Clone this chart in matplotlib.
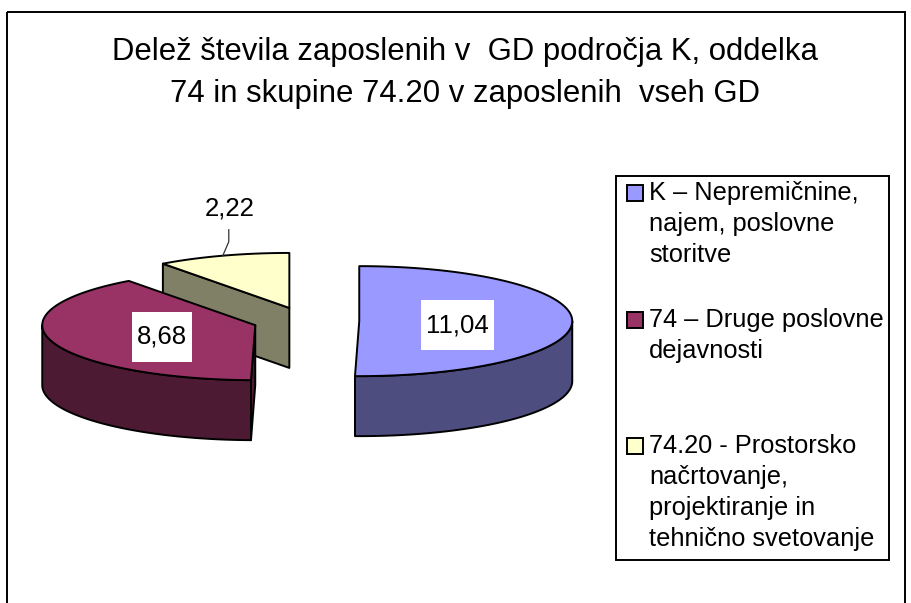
import numpy as np
import matplotlib
matplotlib.use("Agg")
import matplotlib.pyplot as plt
import matplotlib.colors as mcolors
from matplotlib.patches import Polygon, Rectangle

plt.rcParams['font.family'] = ['Liberation Sans', 'DejaVu Sans']

# ---------------- data ----------------
title_lines = ["Delež števila zaposlenih v  GD področja K, oddelka",
               "74 in skupine 74.20 v zaposlenih  vseh GD"]
legend_entries = [["K – Nepremičnine,", "najem, poslovne", "storitve"],
                  ["74 – Druge poslovne", "dejavnosti"],
                  ["74.20 - Prostorsko", "načrtovanje,", "projektiranje in",
                   "tehnično svetovanje"]]
values = [11.04, 8.68, 2.22]
value_labels = ["11,04", "8,68", "2,22"]
top_colors = ["#9999FF", "#993366", "#FFFFCC"]

# ---------------- layout ----------------
W, H = 911, 603
fig = plt.figure(figsize=(W / 100, H / 100), dpi=100)
ax = fig.add_axes([0, 0, 1, 1])
ax.set_xlim(0, W)
ax.set_ylim(H, 0)
ax.axis('off')

CX, CY = 306, 321      # pie centre (pixels)
A, B = 213, 55         # ellipse semi-axes
DEPTH = 60             # thickness
EXPLODE = 0.25         # explosion as fraction of radius
LW = 1.4


def shade(c, f=0.5):
    r, g, b = mcolors.to_rgb(c)
    return (r * f, g * f, b * f)


def pt(cx, cy, th, r=1.0, dz=0.0):
    t = np.radians(th)
    return cx + r * A * np.sin(t), cy - r * B * np.cos(t) + dz


def arc(cx, cy, t1, t2, dz=0.0, n=120):
    ts = np.linspace(t1, t2, n)
    return [pt(cx, cy, t, 1.0, dz) for t in ts]


total = sum(values)
angles = np.concatenate([[0], np.cumsum(values)]) / total * 360.0

slices = []
for i, v in enumerate(values):
    t1, t2 = angles[i], angles[i + 1]
    tm = (t1 + t2) / 2
    cx, cy = pt(CX, CY, tm, EXPLODE)
    slices.append((i, t1, t2, tm, cx, cy))

order = sorted(slices, key=lambda s: -np.cos(np.radians(s[3])))

edge = dict(edgecolor='black', linewidth=LW, joinstyle='round')

for (i, t1, t2, tm, cx, cy) in order:
    col = top_colors[i]
    side = shade(col, 0.5)
    # radial faces
    for th, vis in ((t1, np.sin(np.radians(t1)) < -1e-6),
                    (t2, np.sin(np.radians(t2)) > 1e-6)):
        if vis:
            p = pt(cx, cy, th)
            face = [(cx, cy), p, (p[0], p[1] + DEPTH), (cx, cy + DEPTH)]
            ax.add_patch(Polygon(face, closed=True, facecolor=side, **edge))
    # outer curved side (front half only)
    lo, hi = max(t1, 90), min(t2, 270)
    if hi > lo:
        top = arc(cx, cy, lo, hi)
        bot = arc(cx, cy, lo, hi, DEPTH)[::-1]
        ax.add_patch(Polygon(top + bot, closed=True, facecolor=side, **edge))
    # top face
    poly = [(cx, cy)] + arc(cx, cy, t1, t2)
    ax.add_patch(Polygon(poly, closed=True, facecolor=col, **edge))

# ---------------- data labels ----------------
fig.canvas.draw()
renderer = fig.canvas.get_renderer()
for (i, t1, t2, tm, cx, cy) in slices:
    if values[i] / total > 0.2:
        lx, ly = pt(cx, cy, tm, 0.46, 4)
        t = ax.text(lx, ly, value_labels[i], fontsize=18.5, ha='center',
                    va='center', zorder=6)
        bb = t.get_window_extent(renderer)
        bw = bb.width + 10
        ax.add_patch(Rectangle((lx - bw / 2, ly - 25), bw, 50,
                               facecolor='white', edgecolor='none', zorder=5))
    else:
        rx, ry = pt(cx, cy, tm, 1.0)
        ax.plot([rx, rx + 6, rx + 6], [ry, ry - 14, ry - 26],
                color='#333333', lw=0.9, zorder=5)
        ax.text(rx + 7, ry - 47, value_labels[i], fontsize=18.5, ha='center',
                va='center', zorder=6)

# ---------------- title ----------------
for k, line in enumerate(title_lines):
    ax.text(465, 60 + 42 * k, line, fontsize=22.4, ha='center', va='baseline')

# ---------------- legend ----------------
ax.add_patch(Rectangle((616, 176), 273, 384, facecolor='white',
                       edgecolor='black', linewidth=LW, zorder=3))
first_baselines = [200, 327, 453]
for i, lines in enumerate(legend_entries):
    b0 = first_baselines[i]
    ax.add_patch(Rectangle((627, b0 - 15), 16, 16, facecolor=top_colors[i],
                           edgecolor='black', linewidth=LW, zorder=4))
    for k, line in enumerate(lines):
        ax.text(649, b0 + 31 * k, line, fontsize=18.3, ha='left',
                va='baseline', zorder=4)

# ---------------- chart border ----------------
ax.add_patch(Rectangle((7, 12), 898, 700, facecolor='none',
                       edgecolor='black', linewidth=LW, zorder=2))

fig.savefig("out.png", dpi=100)
